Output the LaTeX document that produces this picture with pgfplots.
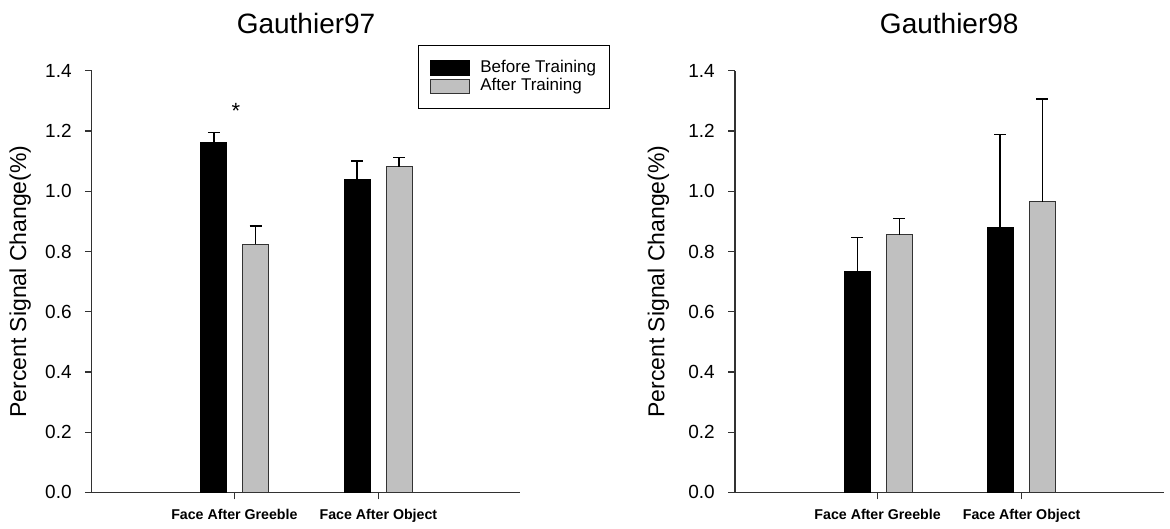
\documentclass[border=0pt]{standalone}
\usepackage{fontspec}
\setmainfont{Liberation Sans}
\usepackage{pgfplots}
\pgfplotsset{compat=1.18}
\definecolor{bargray}{RGB}{192,192,192}
\definecolor{axgray}{RGB}{50,50,50}
\pgfplotsset{
  myaxis/.style={
    scale only axis,
    height=421.6bp, width=428.5bp,
    xmin=-0.99, xmax=1.985,
    ymin=0, ymax=1.4,
    ytick={0,0.2,0.4,0.6,0.8,1.0,1.2,1.4},
    xtick={0,1},
    xticklabels={Face After Greeble, Face After Object},
    axis x line*=bottom, axis y line*=left,
    axis line style={axgray, line width=1.2bp, -},
    tick style={axgray, line width=1.2bp},
    tick align=outside,
    major tick length=7bp,
    /pgf/number format/.cd, fixed, fixed zerofill, precision=1, assume math mode=true, /pgfplots/.cd,
    yticklabel style={font=\fontsize{19bp}{19bp}\selectfont, inner sep=0pt, anchor=east, xshift=-13bp},
    xticklabel style={font=\fontsize{14.2bp}{14bp}\selectfont\bfseries, inner sep=0pt, anchor=north, yshift=-10bp},
    ylabel={Percent Signal Change(\%)},
    ylabel style={font=\fontsize{23bp}{23bp}\selectfont, inner sep=0pt, anchor=base, at={(axis description cs:-0.153,0.5)}},
    title style={font=\fontsize{28bp}{28bp}\selectfont, inner sep=0pt, at={(0.5,1)}, anchor=base, yshift=31.5bp},
    clip=false,
  },
  blackbar/.style={ybar, bar width=26bp, bar shift=0pt, fill=black, draw=black, line width=1bp,
    error bars/.cd, y dir=plus, y explicit,
    error bar style={black, line width=1.5bp},
    error mark options={rotate=90, black, line width=1.5bp, mark size=6bp},
    /pgfplots/.cd,
    legend image code/.code={\draw[fill=black, draw=black, line width=1bp] (0bp,-7.5bp) rectangle (39bp,7.5bp);}},
  graybar/.style={ybar, bar width=26bp, bar shift=0pt, fill=bargray, draw=black!80, line width=1bp,
    error bars/.cd, y dir=plus, y explicit,
    error bar style={black, line width=1.5bp},
    error mark options={rotate=90, black, line width=1.5bp, mark size=6bp},
    /pgfplots/.cd,
    legend image code/.code={\draw[fill=bargray, draw=black!80, line width=1bp] (0bp,-7bp) rectangle (39bp,7bp);}},
}
\begin{document}
\begin{tikzpicture}
\path[use as bounding box] (0,0) rectangle (1170bp,529bp);
\begin{axis}[myaxis,
  at={(91.8bp,36.6bp)}, anchor=south west,
  title={Gauthier97},
  legend style={at={(0.761,1.060)}, anchor=north west, draw=black, line width=1bp,
    font=\fontsize{17bp}{18bp}\selectfont, inner xsep=12bp, inner ysep=12.5bp,
    nodes={inner sep=1.5bp, text height=12bp, text depth=3.5bp},
    /tikz/every odd column/.style={column sep=8.5bp}},
  legend cell align=left,
]
\addplot[blackbar] coordinates {(-0.143,1.163) +- (0,0.032) (0.852,1.040) +- (0,0.061)};
\addlegendentry{Before Training}
\addplot[graybar] coordinates {(0.148,0.824) +- (0,0.060) (1.143,1.081) +- (0,0.031)};
\addlegendentry{After Training}
\node[font=\fontsize{22bp}{22bp}\selectfont, anchor=base, inner sep=0pt] at (axis cs:0.01,1.242) {*};
\end{axis}
\begin{axis}[myaxis,
  at={(735bp,36.6bp)}, anchor=south west,
  title={Gauthier98},
  ylabel style={at={(axis description cs:-0.165,0.5)}},
]
\addplot[blackbar] coordinates {(-0.141,0.732) +- (0,0.115) (0.850,0.878) +- (0,0.311)};
\addplot[graybar] coordinates {(0.152,0.855) +- (0,0.054) (1.144,0.965) +- (0,0.342)};
\end{axis}
\end{tikzpicture}
\end{document}
